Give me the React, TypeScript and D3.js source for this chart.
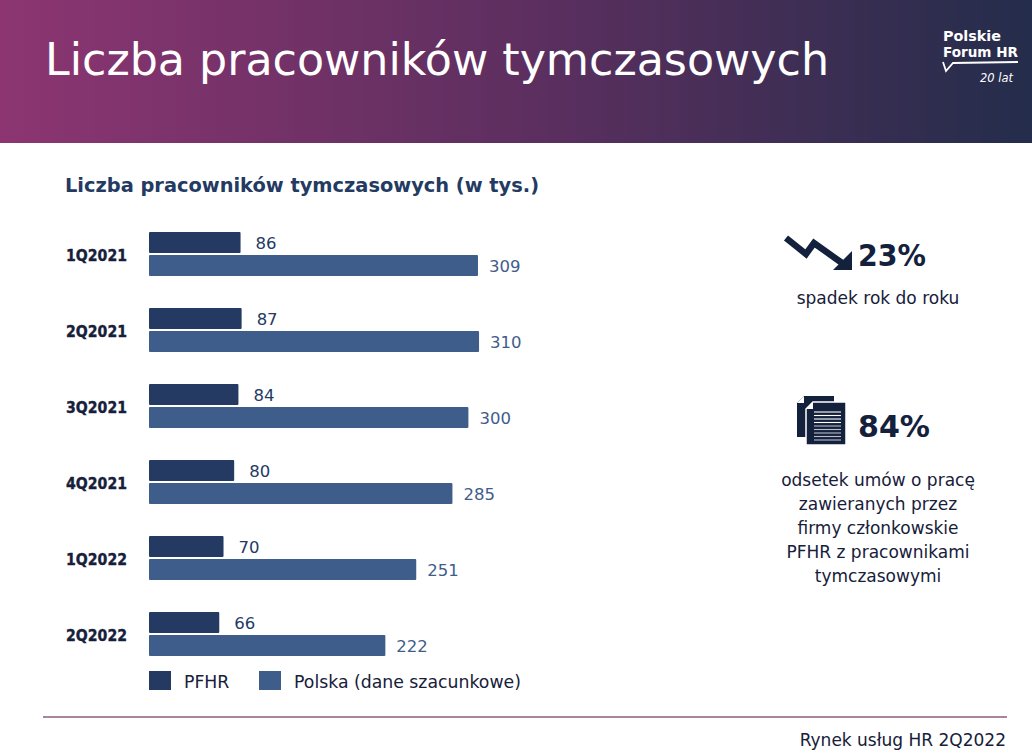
import React from "react";
import * as d3 from "d3";

const categories = ["1Q2021", "2Q2021", "3Q2021", "4Q2021", "1Q2022", "2Q2022"];
const seriesNames = ["PFHR", "Polska (dane szacunkowe)"];
const pfhrValues = [86, 87, 84, 80, 70, 66];
const polskaValues = [309, 310, 300, 285, 251, 222];
const descLines = ["odsetek umów o pracę", "zawieranych przez", "firmy członkowskie", "PFHR z pracownikami", "tymczasowymi"];

const W = 1032;
const H = 753;
const FONT = "'DejaVu Sans', 'Open Sans', sans-serif";
const DARK = "#243a63";
const LIGHT = "#3f5d8b";
const TEXT = "#16203a";

export default function App() {
  const y0 = d3.scaleBand<string>().domain(categories).range([232, 656]).paddingInner(32 / 76).paddingOuter(0);
  const y1 = d3.scaleBand<string>().domain(seriesNames).range([0, y0.bandwidth()]).paddingInner(2 / 23);
  const x = d3.scaleLinear().domain([0, 300]).range([149, 149 + 319.4]);
  const color = d3.scaleOrdinal<string, string>().domain(seriesNames).range([DARK, LIGHT]);
  const valueOffset = [15, 11];
  const series = [pfhrValues, polskaValues];

  return (
    <div style={{ position: "absolute", left: 0, top: 0 }}>
      <svg width={W} height={H} style={{ display: "block" }} fontFamily={FONT}>
        <defs>
          <linearGradient id="hdr" x1="0" x2="1" y1="0" y2="0">
            <stop offset="0" stopColor="#8c3571" />
            <stop offset="0.5" stopColor="#5e2f60" />
            <stop offset="1" stopColor="#242d4b" />
          </linearGradient>
        </defs>
        <rect x={0} y={0} width={W} height={H} fill="#ffffff" />
        <rect x={0} y={0} width={W} height={143} fill="url(#hdr)" />
        <text x={45} y={75} fill="#ffffff" fontSize={45} fontWeight={400} textLength={784} lengthAdjust="spacingAndGlyphs">
          Liczba pracowników tymczasowych
        </text>

        {/* logo */}
        <g fill="#ffffff">
          <text x={943} y={41} fontSize={13.5} fontWeight={700} textLength={58} lengthAdjust="spacingAndGlyphs">Polskie</text>
          <text x={943} y={57} fontSize={13.5} fontWeight={700} textLength={75} lengthAdjust="spacingAndGlyphs">Forum HR</text>
          <path d="M943,62 L946,71 L953,63 L1018,62" fill="none" stroke="#ffffff" strokeWidth={1.8} />
          <text x={980} y={82} fontSize={13} fontStyle="italic" textLength={33} lengthAdjust="spacingAndGlyphs">20 lat</text>
        </g>

        <text x={65} y={192} fill="#233a63" fontSize={19} fontWeight={700} textLength={474} lengthAdjust="spacingAndGlyphs">
          Liczba pracowników tymczasowych (w tys.)
        </text>

        {categories.map((c, i) => {
          const gy = y0(c) as number;
          return (
            <g key={c}>
              <text x={127} y={gy + y0.bandwidth() / 2 + 6.5} textAnchor="end" fill={TEXT} fontSize={16.5} fontWeight={700} textLength={61} lengthAdjust="spacingAndGlyphs" stroke={TEXT} strokeWidth={0.4}>
                {c}
              </text>
              {seriesNames.map((s, j) => {
                const by = gy + (y1(s) as number);
                const v = series[j][i];
                return (
                  <g key={s}>
                    <rect x={x(0)} y={by} width={x(v) - x(0)} height={y1.bandwidth()} fill={color(s)} rx={1} />
                    <text x={x(v) + valueOffset[j]} y={by + y1.bandwidth() / 2 + 6} fill={j === 0 ? "#233a63" : LIGHT} fontSize={16.5}>
                      {v}
                    </text>
                  </g>
                );
              })}
            </g>
          );
        })}

        {/* legend */}
        {seriesNames.map((s, j) => {
          const lx = [149, 259][j];
          return (
            <g key={s}>
              <rect x={lx} y={671} width={22} height={19} fill={color(s)} />
              <text x={lx + 35} y={688} fill={TEXT} fontSize={17.3}>{s}</text>
            </g>
          );
        })}

        {/* right panel */}
        <g fill="#14213d">
          <polyline points="786,238 806,254 814,243 842,263" fill="none" stroke="#14213d" strokeWidth={6.5} strokeLinejoin="miter" />
          <polygon points="852,251 852,270 833,270" />
          <text x={858} y={266} fontSize={31} fontWeight={700} textLength={68} lengthAdjust="spacingAndGlyphs">23%</text>
          <text x={878} y={304} fontSize={17} textAnchor="middle" fill={TEXT}>spadek rok do roku</text>

          <path d="M804,396 L834,396 L834,437 L797,437 L797,403 Z" />
          <path d="M804,396 L804,403 L797,403 Z" fill="#ffffff" />
          <path d="M813,402 L846,402 L846,445 L806,445 L806,409 Z" stroke="#ffffff" strokeWidth={1.5} />
          <path d="M813,402 L813,409 L806,409 Z" fill="#ffffff" />
          {[0, 1, 2, 3, 4, 5, 6, 7, 8].map((k) => (
            <line key={k} x1={814} x2={841} y1={412 + k * 3.5} y2={412 + k * 3.5} stroke={k < 4 ? "#ffffff" : "#b8bcc6"} strokeWidth={1.1} />
          ))}
          <text x={858} y={437} fontSize={31} fontWeight={700} textLength={72} lengthAdjust="spacingAndGlyphs">84%</text>
          {descLines.map((l, k) => (
            <text key={k} x={878} y={486 + k * 24} fontSize={17} textAnchor="middle" fill={TEXT}>{l}</text>
          ))}
        </g>

        <line x1={43} x2={1007} y1={717} y2={717} stroke="#8f5a83" strokeWidth={1.3} />
        <text x={1006} y={746} textAnchor="end" fill={TEXT} fontSize={17}>Rynek usług HR 2Q2022</text>
      </svg>
    </div>
  );
}
